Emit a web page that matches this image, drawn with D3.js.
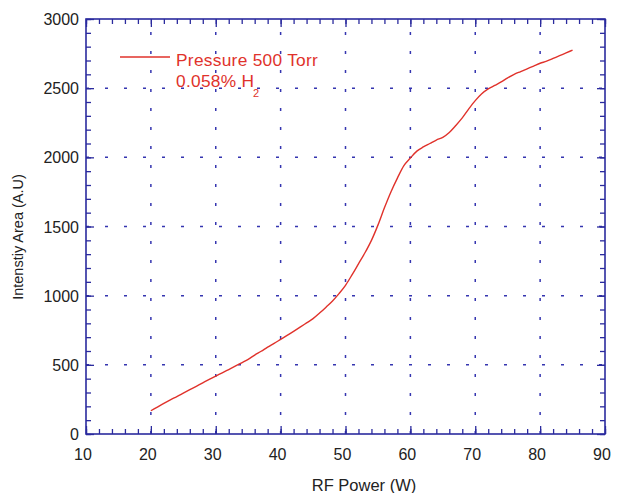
<!DOCTYPE html>
<html>
<head>
<meta charset="utf-8">
<script src="https://cdn.jsdelivr.net/npm/d3@7"></script>
<style>
html,body{margin:0;padding:0;background:#fff;}
svg{display:block;}
text{font-family:"Liberation Sans",Arial,Helvetica,sans-serif;}
</style>
</head>
<body>
<svg id="chart" width="617" height="493"></svg>
<script>
// Data
const rfPower = [20,21,22,23,24,25,26,27,28,29,30,31,32,33,34,35,36,37,38,39,40,41,42,43,44,45,46,47,48,49,50,51,52,53,54,55,56,57,58,59,60,61,62,63,64,65,66,67,68,69,70,71,72,73,74,75,76,77,78,79,80,81,82,83,84,85];
const intensity = [168,195,222,247,270,295,320,345,370,395,419,442,466,490,515,540,570,598,628,655,684,713,742,772,803,834,874,917,962,1015,1075,1150,1230,1310,1400,1510,1635,1750,1850,1940,1995,2045,2075,2100,2125,2145,2180,2230,2285,2350,2410,2460,2495,2520,2545,2575,2600,2620,2640,2660,2680,2695,2715,2735,2755,2775];
const xTicks = [10,20,30,40,50,60,70,80,90];
const yTicks = [0,500,1000,1500,2000,2500,3000];
const xMinor = d3.range(10,90.01,2);
const yMinor = d3.range(0,3000.1,100);
const seriesLabel = "Pressure 500 Torr";
const seriesLabel2 = "0.058% H";
const xTitle = "RF Power (W)";
const yTitle = "Intenstiy Area (A.U)";

const L=86, R=605, T=19, B=434;
const axisColor="#2b2b9e", gridColor="#3535b0", lineColor="#e0322b", textColor="#222";
const svg=d3.select("#chart");
const x=d3.scaleLinear().domain([10,90]).range([L,R]);
const y=d3.scaleLinear().domain([0,3000]).range([B,T]);

// grid
const g=svg.append("g");
g.selectAll(".vg").data(xTicks.slice(1,-1)).enter().append("line")
  .attr("x1",d=>x(d)).attr("x2",d=>x(d)).attr("y1",B).attr("y2",T)
  .attr("stroke",gridColor).attr("stroke-width",1.5).attr("stroke-dasharray","3,16");
g.selectAll(".hg").data(yTicks.slice(1,-1)).enter().append("line")
  .attr("x1",L).attr("x2",R).attr("y1",d=>y(d)).attr("y2",d=>y(d))
  .attr("stroke",gridColor).attr("stroke-width",1.5).attr("stroke-dasharray","3,16");

// axes with inward ticks on all four sides
function styleAxis(sel){
  sel.select(".domain").remove();
  sel.selectAll("line").attr("stroke",axisColor).attr("stroke-width",1.3);
}
const tl=5;
svg.append("g").attr("transform",`translate(0,${B})`)
  .call(d3.axisBottom(x).tickValues(xMinor).tickSize(-tl).tickFormat("")).call(styleAxis);
svg.append("g").attr("transform",`translate(0,${T})`)
  .call(d3.axisTop(x).tickValues(xMinor).tickSize(-tl).tickFormat("")).call(styleAxis);
svg.append("g").attr("transform",`translate(${L},0)`)
  .call(d3.axisLeft(y).tickValues(yMinor).tickSize(-tl).tickFormat("")).call(styleAxis);
svg.append("g").attr("transform",`translate(${R},0)`)
  .call(d3.axisRight(y).tickValues(yMinor).tickSize(-tl).tickFormat("")).call(styleAxis);
svg.append("g").attr("transform",`translate(0,${B})`)
  .call(d3.axisBottom(x).tickValues(xTicks).tickSize(-8).tickFormat("")).call(styleAxis);
svg.append("g").attr("transform",`translate(0,${T})`)
  .call(d3.axisTop(x).tickValues(xTicks).tickSize(-8).tickFormat("")).call(styleAxis);
svg.append("g").attr("transform",`translate(${L},0)`)
  .call(d3.axisLeft(y).tickValues(yTicks).tickSize(-8).tickFormat("")).call(styleAxis);
svg.append("g").attr("transform",`translate(${R},0)`)
  .call(d3.axisRight(y).tickValues(yTicks).tickSize(-8).tickFormat("")).call(styleAxis);

svg.append("rect").attr("x",L).attr("y",T).attr("width",R-L).attr("height",B-T)
  .attr("fill","none").attr("stroke",axisColor).attr("stroke-width",1.6);

// tick labels
svg.append("g").selectAll("text").data(xTicks).enter().append("text")
  .attr("x",d=>x(d)-3).attr("y",460).attr("text-anchor","middle")
  .attr("font-size",16).attr("fill",textColor).text(d=>d);
svg.append("g").selectAll("text").data(yTicks).enter().append("text")
  .attr("x",79).attr("y",d=>y(d)+6).attr("text-anchor","end")
  .attr("font-size",16).attr("fill",textColor).text(d=>d);

// titles
svg.append("text").attr("x",364).attr("y",491).attr("text-anchor","middle")
  .attr("font-size",16.5).attr("fill",textColor).text(xTitle);
svg.append("text").attr("transform","translate(23,237) rotate(-90)").attr("text-anchor","middle")
  .attr("font-size",14.5).attr("fill",textColor).text(yTitle);

// series line
const line=d3.line().x((d,i)=>x(rfPower[i])).y(d=>y(d)).curve(d3.curveMonotoneX);
svg.append("path").datum(intensity).attr("d",line)
  .attr("fill","none").attr("stroke",lineColor).attr("stroke-width",1.4);

// legend
svg.append("line").attr("x1",120).attr("x2",170).attr("y1",57).attr("y2",57)
  .attr("stroke",lineColor).attr("stroke-width",1.4);
svg.append("text").attr("x",176).attr("y",66).attr("font-size",17.3).attr("letter-spacing",0.3)
  .attr("fill",lineColor).text(seriesLabel);
svg.append("text").attr("x",176).attr("y",87).attr("font-size",17.3).attr("letter-spacing",0.3)
  .attr("fill",lineColor).text(seriesLabel2);
svg.append("text").attr("x",253).attr("y",97).attr("font-size",11).attr("fill",lineColor).text("2");
</script>
</body>
</html>
